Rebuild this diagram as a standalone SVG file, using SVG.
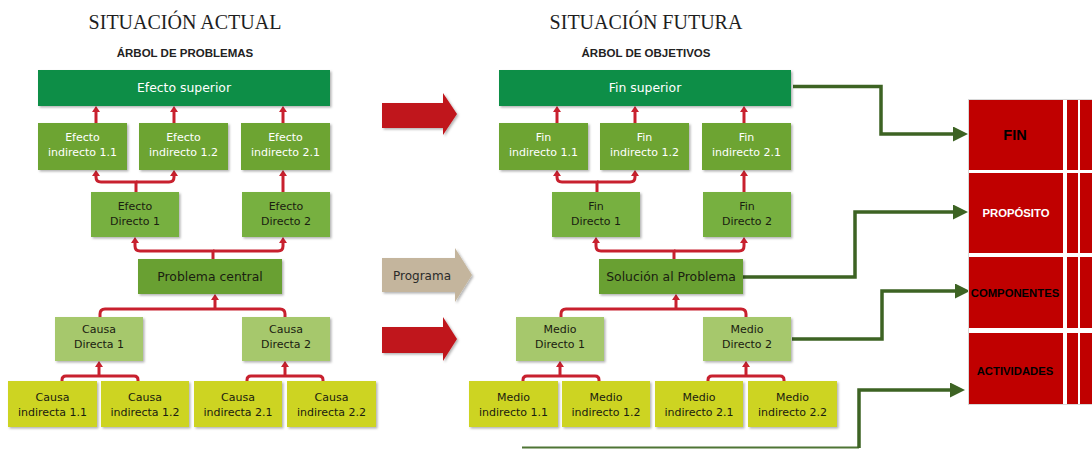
<svg xmlns="http://www.w3.org/2000/svg" width="1092" height="449" viewBox="0 0 1092 449">
<style>
text{font-family:"DejaVu Sans","Noto Sans",sans-serif;font-size:11px;text-anchor:middle}
.w{fill:#ffffff}
.d{fill:#1a2010}
.big{font-size:12.4px}
.t1{font-family:"Liberation Serif","DejaVu Serif",serif;font-size:20px;fill:#1e1e1e}
.t2{font-family:"Liberation Sans",Arial,sans-serif;font-size:11.5px;font-weight:bold;fill:#222}
.tb{font-family:"Liberation Sans",Arial,sans-serif;font-weight:bold;font-size:11.3px}
.fin{font-size:14.5px}
.prog{font-size:12px;fill:#2a2a2a}
.sup{fill:#0b8e46}
.ei{fill:#6da433}
.ed{fill:#77b041}
.pc{fill:#69a030}
.cd{fill:#a6c86c}
.ci{fill:#cdd422}
.rl{fill:none;stroke:#c8202e;stroke-width:3}
.ar{marker-end:url(#ra)}
.gl{fill:none;stroke:#3d6323;stroke-width:3.5;marker-end:url(#ga)}
.cell{fill:#c00000}
rect.sh,polygon.sh{filter:url(#sh)}
</style>
<defs>
<filter id="sh" x="-10%" y="-10%" width="130%" height="140%">
<feDropShadow dx="1.5" dy="1.5" stdDeviation="1.2" flood-color="#000" flood-opacity="0.3"/>
</filter>
<marker id="ra" markerUnits="userSpaceOnUse" viewBox="0 0 6 8" markerWidth="6" markerHeight="8" refX="0" refY="4" orient="auto">
<path d="M0,0 L6,4 L0,8 z" fill="#c8202e"/>
</marker>
<marker id="ga" markerUnits="userSpaceOnUse" viewBox="0 0 15 15" markerWidth="15" markerHeight="15" refX="0" refY="7.5" orient="auto">
<path d="M0,0 L15,7.5 L0,15 z" fill="#3d6323"/>
</marker>
</defs>
<rect width="1092" height="449" fill="#ffffff"/>

<g id="titles">
<text class="t1" x="185" y="29">SITUACIÓN ACTUAL</text>
<text class="t2" x="185" y="57">ÁRBOL DE PROBLEMAS</text>
<text class="t1" x="646" y="29">SITUACIÓN FUTURA</text>
<text class="t2" x="646" y="57">ÁRBOL DE OBJETIVOS</text>
</g>

<g id="connectors">
<g id="conn-left">
<path class="rl ar" d="M96,123 V112"/>
<path class="rl ar" d="M174,123 V112"/>
<path class="rl ar" d="M283,123 V112"/>
<path class="rl ar" d="M136,192 V182 H101 Q96,182 96,177 V176"/>
<path class="rl ar" d="M136,182 H169 Q174,182 174,177 V176"/>
<path class="rl ar" d="M283,192 V176"/>
<path class="rl ar" d="M213,259 V251 H140 Q135,251 135,246 V243"/>
<path class="rl ar" d="M213,251 H278 Q283,251 283,246 V243"/>
<path class="rl" d="M100,317 V314 Q100,309 105,309 H280 Q285,309 285,314 V317"/>
<path class="rl ar" d="M215,309 V300"/>
<path class="rl" d="M62,381 V380 Q62,376 66,376 H134 Q138,376 138,380 V381"/>
<path class="rl ar" d="M99,376 V367"/>
<path class="rl" d="M247,381 V380 Q247,376 251,376 H319 Q323,376 323,380 V381"/>
<path class="rl ar" d="M285,376 V367"/>
</g>
<g id="conn-right" transform="translate(461,0)">
<path class="rl ar" d="M96,123 V112"/>
<path class="rl ar" d="M174,123 V112"/>
<path class="rl ar" d="M283,123 V112"/>
<path class="rl ar" d="M136,192 V182 H101 Q96,182 96,177 V176"/>
<path class="rl ar" d="M136,182 H169 Q174,182 174,177 V176"/>
<path class="rl ar" d="M283,192 V176"/>
<path class="rl ar" d="M213,259 V251 H140 Q135,251 135,246 V243"/>
<path class="rl ar" d="M213,251 H278 Q283,251 283,246 V243"/>
<path class="rl" d="M100,317 V314 Q100,309 105,309 H280 Q285,309 285,314 V317"/>
<path class="rl ar" d="M215,309 V300"/>
<path class="rl" d="M62,381 V380 Q62,376 66,376 H134 Q138,376 138,380 V381"/>
<path class="rl ar" d="M99,376 V367"/>
<path class="rl" d="M247,381 V380 Q247,376 251,376 H319 Q323,376 323,380 V381"/>
<path class="rl ar" d="M285,376 V367"/>
</g>
<g id="conn-mml">
<path class="gl" d="M793,86.5 H881 V134 H953"/>
<path class="gl" d="M743,277 H855 V212 H953"/>
<path class="gl" d="M792,339 H882 V291 H955"/>
<path d="M522,447.5 H859" fill="none" stroke="#4f7535" stroke-width="2"/>
<path class="gl" d="M859,448 V390 H950"/>
</g>
</g>

<g id="arrow-1"><polygon class="sh" points="382,103 443,103 443,93 457,114 443,135 443,128 382,128" fill="#c0161f"/></g>
<g id="arrow-programa"><polygon class="sh" points="382,258 455,258 455,248 472,275 455,302 455,292 382,292" fill="#c4b59d"/>
<text class="prog" x="422" y="280">Programa</text></g>
<g id="arrow-2"><polygon class="sh" points="382,327 443,327 443,317 457,339 443,361 443,353 382,353" fill="#c0161f"/></g>

<!-- Left tree -->
<g id="efecto-superior"><rect class="sh sup" x="38" y="70" width="292" height="36"/><text class="w big" x="184" y="92">Efecto superior</text></g>
<g id="efecto-ind-11"><rect class="sh ei" x="38" y="123" width="89" height="47"/><text class="w" x="82.5" y="141">Efecto</text><text class="w" x="82.5" y="156">indirecto 1.1</text></g>
<g id="efecto-ind-12"><rect class="sh ei" x="139" y="123" width="89" height="47"/><text class="w" x="183.5" y="141">Efecto</text><text class="w" x="183.5" y="156">indirecto 1.2</text></g>
<g id="efecto-ind-21"><rect class="sh ei" x="241" y="123" width="89" height="47"/><text class="w" x="285.5" y="141">Efecto</text><text class="w" x="285.5" y="156">indirecto 2.1</text></g>
<g id="efecto-dir-1"><rect class="sh ed" x="91" y="192" width="88" height="45"/><text class="d" x="135" y="210">Efecto</text><text class="d" x="135" y="225">Directo 1</text></g>
<g id="efecto-dir-2"><rect class="sh ed" x="242" y="192" width="88" height="45"/><text class="d" x="286" y="210">Efecto</text><text class="d" x="286" y="225">Directo 2</text></g>
<g id="problema-central"><rect class="sh pc" x="138" y="259" width="144" height="35"/><text class="d big" x="210" y="281">Problema central</text></g>
<g id="causa-dir-1"><rect class="sh cd" x="55" y="317" width="88" height="44"/><text class="d" x="99" y="333">Causa</text><text class="d" x="99" y="348">Directa 1</text></g>
<g id="causa-dir-2"><rect class="sh cd" x="242" y="317" width="88" height="44"/><text class="d" x="286" y="333">Causa</text><text class="d" x="286" y="348">Directa 2</text></g>
<g id="causa-ind-11"><rect class="sh ci" x="8" y="381" width="89" height="46"/><text class="d" x="52.5" y="401">Causa</text><text class="d" x="52.5" y="416">indirecta 1.1</text></g>
<g id="causa-ind-12"><rect class="sh ci" x="101" y="381" width="88" height="46"/><text class="d" x="145" y="401">Causa</text><text class="d" x="145" y="416">indirecta 1.2</text></g>
<g id="causa-ind-21"><rect class="sh ci" x="194" y="381" width="88" height="46"/><text class="d" x="238" y="401">Causa</text><text class="d" x="238" y="416">indirecta 2.1</text></g>
<g id="causa-ind-22"><rect class="sh ci" x="287" y="381" width="89" height="46"/><text class="d" x="331.5" y="401">Causa</text><text class="d" x="331.5" y="416">indirecta 2.2</text></g>

<!-- Right tree -->
<g id="fin-superior"><rect class="sh sup" x="499" y="70" width="292" height="36"/><text class="w big" x="645" y="92">Fin superior</text></g>
<g id="fin-ind-11"><rect class="sh ei" x="499" y="123" width="89" height="47"/><text class="w" x="543.5" y="141">Fin</text><text class="w" x="543.5" y="156">indirecto 1.1</text></g>
<g id="fin-ind-12"><rect class="sh ei" x="600" y="123" width="89" height="47"/><text class="w" x="644.5" y="141">Fin</text><text class="w" x="644.5" y="156">indirecto 1.2</text></g>
<g id="fin-ind-21"><rect class="sh ei" x="702" y="123" width="89" height="47"/><text class="w" x="746.5" y="141">Fin</text><text class="w" x="746.5" y="156">indirecto 2.1</text></g>
<g id="fin-dir-1"><rect class="sh ed" x="552" y="192" width="88" height="45"/><text class="d" x="596" y="210">Fin</text><text class="d" x="596" y="225">Directo 1</text></g>
<g id="fin-dir-2"><rect class="sh ed" x="703" y="192" width="88" height="45"/><text class="d" x="747" y="210">Fin</text><text class="d" x="747" y="225">Directo 2</text></g>
<g id="solucion"><rect class="sh pc" x="599" y="259" width="144" height="35"/><text class="d big" x="671" y="281">Solución al Problema</text></g>
<g id="medio-dir-1"><rect class="sh cd" x="516" y="317" width="88" height="44"/><text class="d" x="560" y="333">Medio</text><text class="d" x="560" y="348">Directo 1</text></g>
<g id="medio-dir-2"><rect class="sh cd" x="703" y="317" width="88" height="44"/><text class="d" x="747" y="333">Medio</text><text class="d" x="747" y="348">Directo 2</text></g>
<g id="medio-ind-11"><rect class="sh ci" x="469" y="381" width="89" height="46"/><text class="d" x="513.5" y="401">Medio</text><text class="d" x="513.5" y="416">indirecto 1.1</text></g>
<g id="medio-ind-12"><rect class="sh ci" x="562" y="381" width="88" height="46"/><text class="d" x="606" y="401">Medio</text><text class="d" x="606" y="416">indirecto 1.2</text></g>
<g id="medio-ind-21"><rect class="sh ci" x="655" y="381" width="88" height="46"/><text class="d" x="699" y="401">Medio</text><text class="d" x="699" y="416">indirecto 2.1</text></g>
<g id="medio-ind-22"><rect class="sh ci" x="748" y="381" width="89" height="46"/><text class="d" x="792.5" y="401">Medio</text><text class="d" x="792.5" y="416">indirecto 2.2</text></g>

<!-- Matrix -->
<g id="mml-table">
<rect x="968.5" y="99.5" width="124" height="305" fill="#ffffff" stroke="#d8d8d8" stroke-width="1"/>
<g id="row-fin">
<rect class="cell" x="969" y="100" width="94" height="70"/><rect class="cell" x="1067" y="100" width="11" height="70"/><rect class="cell" x="1080" y="100" width="12" height="70"/>
<text class="tb fin" x="1015" y="140" fill="#000">FIN</text>
</g>
<g id="row-proposito">
<rect class="cell" x="969" y="173" width="94" height="80"/><rect class="cell" x="1067" y="173" width="11" height="80"/><rect class="cell" x="1080" y="173" width="12" height="80"/>
<text class="tb" x="1016" y="217" fill="#fff">PROPÓSITO</text>
</g>
<g id="row-componentes">
<rect class="cell" x="969" y="257" width="94" height="71"/><rect class="cell" x="1067" y="257" width="11" height="71"/><rect class="cell" x="1080" y="257" width="12" height="71"/>
<text class="tb" x="1015" y="297" fill="#000">COMPONENTES</text>
</g>
<g id="row-actividades">
<rect class="cell" x="969" y="333" width="94" height="71"/><rect class="cell" x="1067" y="333" width="11" height="71"/><rect class="cell" x="1080" y="333" width="12" height="71"/>
<text class="tb" x="1015" y="375" fill="#000">ACTIVIDADES</text>
</g>
</g>
</svg>
